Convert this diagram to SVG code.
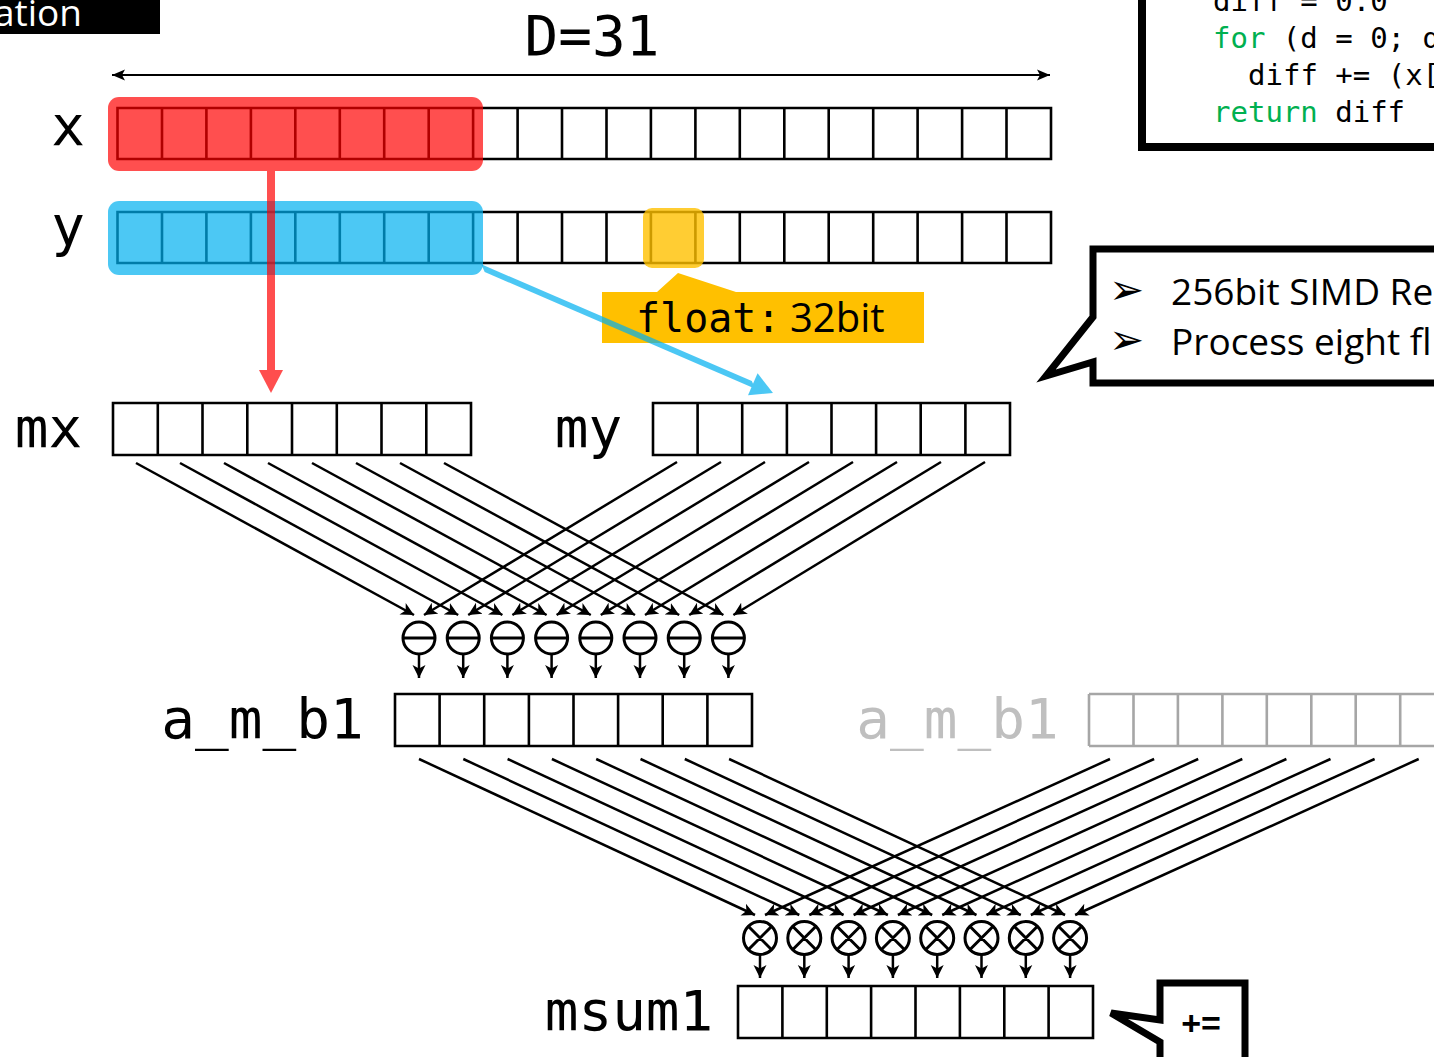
<svg xmlns="http://www.w3.org/2000/svg" width="1434" height="1057" viewBox="0 0 1434 1057">
<style>
.cells{fill:none;stroke:#000;stroke-width:2.6}
.grey{fill:none;stroke:#A6A6A6;stroke-width:2.6}
.lbl{font-family:"DejaVu Sans Mono",monospace;font-size:56px;fill:#000;text-anchor:middle}
.lbl.light{fill:#BFBFBF}
.code{font-family:"DejaVu Sans Mono",monospace;font-size:29px;fill:#000}
.kw{fill:#00B050}
.ln{stroke:#000;stroke-width:2.5;fill:none;marker-end:url(#ah)}
.op{fill:#fff;stroke:#000;stroke-width:3}
.callout{fill:#fff;stroke:#000;stroke-width:7;stroke-linejoin:miter}
.sans{font-family:"Open Sans","Liberation Sans",sans-serif}
.bullet{font-family:"DejaVu Sans",sans-serif;font-size:42px}
</style>
<defs>
<marker id="ah" markerUnits="userSpaceOnUse" viewBox="0 0 14 14" markerWidth="14" markerHeight="14" refX="13" refY="7" orient="auto">
<path d="M0,0.5 L13,7 L0,13.5 L3.5,7 Z" fill="#000"/>
</marker>
<marker id="ahd" markerUnits="userSpaceOnUse" viewBox="0 0 14 12" markerWidth="14" markerHeight="12" refX="13" refY="6" orient="auto-start-reverse">
<path d="M0,0.5 L13,6 L0,11.5 L3,6 Z" fill="#000"/>
</marker>
</defs>
<rect width="1434" height="1057" fill="#fff"/>

<g id="title-tab">
<rect x="-2" y="-2" width="162" height="36" fill="#000"/>
<text x="82" y="26" class="sans" font-size="37" fill="#fff" text-anchor="end">ation</text>
</g>

<g id="code-box">
<rect x="1142" y="-20" width="320" height="167" fill="#fff" stroke="#000" stroke-width="8"/>
<text class="code" x="1213" y="11">diff = 0.0</text>
<text class="code" x="1213" y="48"><tspan class="kw">for</tspan> (d = 0; d</text>
<text class="code" x="1248" y="85">diff += (x[</text>
<text class="code" x="1213" y="122"><tspan class="kw">return</tspan> diff</text>
</g>

<g id="simd-callout">
<path class="callout" d="M1093,249 L1445,249 L1445,383 L1093,383 L1093,362 L1046,376 L1093,317 Z"/>
<text x="1109" y="304" class="bullet">➢</text>
<text x="1109" y="354" class="bullet">➢</text>
<text x="1171" y="305" class="sans" font-size="37">256bit SIMD Re</text>
<text x="1171" y="355" class="sans" font-size="37">Process eight fl</text>
</g>

<g id="dimension">
<text class="lbl" x="592" y="55">D=31</text>
</g>

<g id="x-array">
<text class="lbl" x="68" y="145" font-size="54">x</text>
<path class="cells" d="M117.5,108 H1051 V159 H117.5 Z M162,108 V159 M206.4,108 V159 M250.9,108 V159 M295.3,108 V159 M339.8,108 V159 M384.2,108 V159 M428.7,108 V159 M473.1,108 V159 M517.6,108 V159 M562,108 V159 M606.5,108 V159 M650.9,108 V159 M695.4,108 V159 M739.8,108 V159 M784.3,108 V159 M828.7,108 V159 M873.2,108 V159 M917.6,108 V159 M962.1,108 V159 M1006.5,108 V159"/>
<rect x="108" y="97" width="375" height="74" rx="11" fill="#FF0000" opacity="0.69"/>
</g>

<g id="y-array">
<text class="lbl" x="68" y="245" font-size="54">y</text>
<path class="cells" d="M117.5,212 H1051 V263 H117.5 Z M162,212 V263 M206.4,212 V263 M250.9,212 V263 M295.3,212 V263 M339.8,212 V263 M384.2,212 V263 M428.7,212 V263 M473.1,212 V263 M517.6,212 V263 M562,212 V263 M606.5,212 V263 M650.9,212 V263 M695.4,212 V263 M739.8,212 V263 M784.3,212 V263 M828.7,212 V263 M873.2,212 V263 M917.6,212 V263 M962.1,212 V263 M1006.5,212 V263"/>
<rect x="108" y="201" width="375" height="74" rx="11" fill="#00B0F0" opacity="0.7"/>
<rect x="643" y="208" width="61" height="60" rx="9" fill="#FFC000" opacity="0.8"/>
</g>

<g id="float-label">
<path d="M602,292 H657 L678,273 L736,292 H924 V343 H602 Z" fill="#FFC000"/>
<text y="332" font-size="40"><tspan x="636" font-family="DejaVu Sans Mono,monospace">float:</tspan><tspan x="790" font-family="Open Sans,Liberation Sans,sans-serif">32bit</tspan></text>
</g>

<g id="mx">
<text class="lbl" x="48.5" y="447">mx</text>
<path class="cells" d="M113,403 H471 V455 H113 Z M157.8,403 V455 M202.5,403 V455 M247.3,403 V455 M292,403 V455 M336.8,403 V455 M381.5,403 V455 M426.3,403 V455"/>
</g>

<g id="my">
<text class="lbl" x="588.5" y="447">my</text>
<path class="cells" d="M653,403 H1010 V455 H653 Z M697.6,403 V455 M742.2,403 V455 M786.9,403 V455 M831.5,403 V455 M876.1,403 V455 M920.7,403 V455 M965.4,403 V455"/>
</g>

<g id="subtract-ops">
<g class="op">
<circle cx="419" cy="638" r="16"/><circle cx="463.2" cy="638" r="16"/><circle cx="507.4" cy="638" r="16"/><circle cx="551.6" cy="638" r="16"/><circle cx="595.8" cy="638" r="16"/><circle cx="640" cy="638" r="16"/><circle cx="684.2" cy="638" r="16"/><circle cx="728.4" cy="638" r="16"/>
</g>
<path stroke="#000" stroke-width="3" d="M403,638 H435 M447.2,638 H479.2 M491.4,638 H523.4 M535.6,638 H567.6 M579.8,638 H611.8 M624,638 H656 M668.2,638 H700.2 M712.4,638 H744.4"/>
</g>

<g id="a_m_b1">
<text class="lbl" x="262.5" y="738">a_m_b1</text>
<path class="cells" d="M395,694 H752 V746 H395 Z M439.6,694 V746 M484.2,694 V746 M528.9,694 V746 M573.5,694 V746 M618.1,694 V746 M662.7,694 V746 M707.4,694 V746"/>
</g>

<g id="a_m_b1-copy">
<text class="lbl light" x="957.5" y="738">a_m_b1</text>
<path class="grey" d="M1089,694 H1450 M1089,746 H1450 M1089,694 V746 M1133.5,694 V746 M1177.9,694 V746 M1222.4,694 V746 M1266.8,694 V746 M1311.3,694 V746 M1355.7,694 V746 M1400.2,694 V746"/>
</g>

<g id="multiply-ops">
<g class="op">
<circle cx="760" cy="938" r="16.5"/><circle cx="804.3" cy="938" r="16.5"/><circle cx="848.6" cy="938" r="16.5"/><circle cx="892.9" cy="938" r="16.5"/><circle cx="937.2" cy="938" r="16.5"/><circle cx="981.5" cy="938" r="16.5"/><circle cx="1025.8" cy="938" r="16.5"/><circle cx="1070.1" cy="938" r="16.5"/>
</g>
<path stroke="#000" stroke-width="3" d="M748.3,926.3 l23.4,23.4 m0,-23.4 l-23.4,23.4 M792.6,926.3 l23.4,23.4 m0,-23.4 l-23.4,23.4 M836.9,926.3 l23.4,23.4 m0,-23.4 l-23.4,23.4 M881.2,926.3 l23.4,23.4 m0,-23.4 l-23.4,23.4 M925.5,926.3 l23.4,23.4 m0,-23.4 l-23.4,23.4 M969.8,926.3 l23.4,23.4 m0,-23.4 l-23.4,23.4 M1014.1,926.3 l23.4,23.4 m0,-23.4 l-23.4,23.4 M1058.4,926.3 l23.4,23.4 m0,-23.4 l-23.4,23.4"/>
</g>

<g id="msum1">
<text class="lbl" x="629" y="1030">msum1</text>
<path class="cells" d="M738,986 H1093 V1038 H738 Z M782.4,986 V1038 M826.8,986 V1038 M871.1,986 V1038 M915.5,986 V1038 M959.9,986 V1038 M1004.3,986 V1038 M1048.6,986 V1038"/>
</g>

<g id="accum-callout">
<path class="callout" d="M1160,983 L1245,983 L1245,1070 L1160,1070 L1160,1042 L1111,1013 L1160,1020 Z"/>
<text x="1201" y="1035" font-family="Liberation Sans,Arial,sans-serif" font-weight="bold" font-size="34" text-anchor="middle">+=</text>
</g>

<g id="connectors">
<line x1="112" y1="75" x2="1050" y2="75" stroke="#000" stroke-width="2" marker-start="url(#ahd)" marker-end="url(#ahd)"/>
<g opacity="0.69" fill="#FF0000">
<rect x="267" y="171" width="8" height="202"/>
<polygon points="259,370 283,370 271,393"/>
</g>
<g opacity="0.7" fill="#00B0F0">
<polygon points="481.3,264.3 484.7,272.0 755.2,388.7 751.8,380.9"/>
<polygon points="748,395.3 757.6,373.3 773,393"/>
</g>
<line class="ln" x1="136" y1="463" x2="414" y2="615"/>
<line class="ln" x1="180" y1="463" x2="458.2" y2="615"/>
<line class="ln" x1="224" y1="463" x2="502.4" y2="615"/>
<line class="ln" x1="268" y1="463" x2="546.6" y2="615"/>
<line class="ln" x1="312" y1="463" x2="590.8" y2="615"/>
<line class="ln" x1="356" y1="463" x2="635" y2="615"/>
<line class="ln" x1="400" y1="463" x2="679.2" y2="615"/>
<line class="ln" x1="444" y1="463" x2="723.4" y2="615"/>
<line class="ln" x1="677" y1="462" x2="424" y2="615"/>
<line class="ln" x1="721" y1="462" x2="468.2" y2="615"/>
<line class="ln" x1="765" y1="462" x2="512.4" y2="615"/>
<line class="ln" x1="809" y1="462" x2="556.6" y2="615"/>
<line class="ln" x1="853" y1="462" x2="600.8" y2="615"/>
<line class="ln" x1="897" y1="462" x2="645" y2="615"/>
<line class="ln" x1="941" y1="462" x2="689.2" y2="615"/>
<line class="ln" x1="985" y1="462" x2="733.4" y2="615"/>
<line class="ln" x1="419" y1="654" x2="419" y2="678"/>
<line class="ln" x1="463.2" y1="654" x2="463.2" y2="678"/>
<line class="ln" x1="507.4" y1="654" x2="507.4" y2="678"/>
<line class="ln" x1="551.6" y1="654" x2="551.6" y2="678"/>
<line class="ln" x1="595.8" y1="654" x2="595.8" y2="678"/>
<line class="ln" x1="640" y1="654" x2="640" y2="678"/>
<line class="ln" x1="684.2" y1="654" x2="684.2" y2="678"/>
<line class="ln" x1="728.4" y1="654" x2="728.4" y2="678"/>
<line class="ln" x1="419" y1="759" x2="755" y2="915"/>
<line class="ln" x1="463.3" y1="759" x2="799.3" y2="915"/>
<line class="ln" x1="507.6" y1="759" x2="843.6" y2="915"/>
<line class="ln" x1="551.9" y1="759" x2="887.9" y2="915"/>
<line class="ln" x1="596.2" y1="759" x2="932.2" y2="915"/>
<line class="ln" x1="640.5" y1="759" x2="976.5" y2="915"/>
<line class="ln" x1="684.8" y1="759" x2="1020.8" y2="915"/>
<line class="ln" x1="729.1" y1="759" x2="1065.1" y2="915"/>
<line class="ln" x1="1110" y1="759" x2="765" y2="915"/>
<line class="ln" x1="1154.1" y1="759" x2="809.3" y2="915"/>
<line class="ln" x1="1198.2" y1="759" x2="853.6" y2="915"/>
<line class="ln" x1="1242.3" y1="759" x2="897.9" y2="915"/>
<line class="ln" x1="1286.4" y1="759" x2="942.2" y2="915"/>
<line class="ln" x1="1330.5" y1="759" x2="986.5" y2="915"/>
<line class="ln" x1="1374.6" y1="759" x2="1030.8" y2="915"/>
<line class="ln" x1="1418.7" y1="759" x2="1075.1" y2="915"/>
<line class="ln" x1="760" y1="954.5" x2="760" y2="978"/>
<line class="ln" x1="804.3" y1="954.5" x2="804.3" y2="978"/>
<line class="ln" x1="848.6" y1="954.5" x2="848.6" y2="978"/>
<line class="ln" x1="892.9" y1="954.5" x2="892.9" y2="978"/>
<line class="ln" x1="937.2" y1="954.5" x2="937.2" y2="978"/>
<line class="ln" x1="981.5" y1="954.5" x2="981.5" y2="978"/>
<line class="ln" x1="1025.8" y1="954.5" x2="1025.8" y2="978"/>
<line class="ln" x1="1070.1" y1="954.5" x2="1070.1" y2="978"/>
</g>
</svg>
